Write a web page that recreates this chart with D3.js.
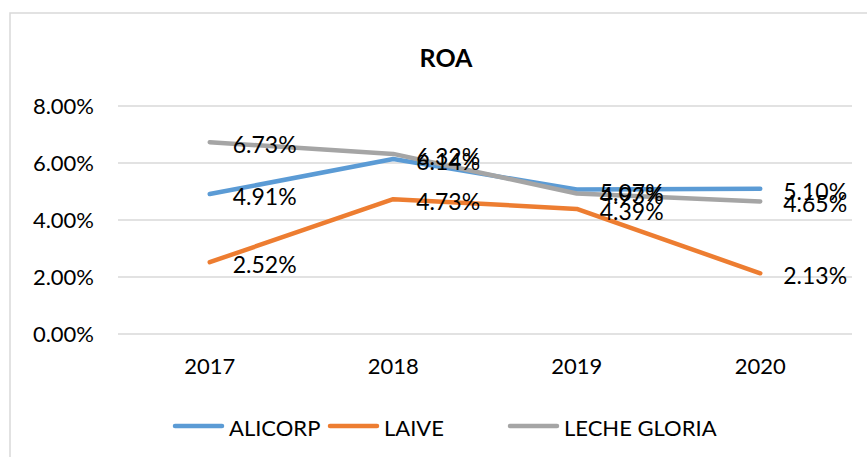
<!DOCTYPE html>
<html>
<head>
<meta charset="utf-8">
<script src="https://cdn.jsdelivr.net/npm/d3@7"></script>
<style>
body{margin:0;background:#fff;}
svg{display:block;font-family:Lato,"Open Sans",sans-serif;}
</style>
</head>
<body>
<script>
//数据
let years=["2017","2018","2019","2020"];
let alicorp=[4.91,6.14,5.07,5.10];
let laive=[2.52,4.73,4.39,2.13];
let gloria=[6.73,6.32,4.93,4.65];
let yTicks=[0,2,4,6,8];
let series=[
    {name:"ALICORP",values:alicorp,color:"#5B9BD5"},
    {name:"LAIVE",values:laive,color:"#ED7D31"},
    {name:"LECHE GLORIA",values:gloria,color:"#A5A5A5"}
];

//画布
let width=867,height=457;
let svg=d3.select("body").append("svg").attr("width",width).attr("height",height);

//边框
svg.append("rect")
    .attr("x",10).attr("y",13)
    .attr("width",900).attr("height",500)
    .style("fill","none").style("stroke","#D9D9D9").style("stroke-width",1.5);

//比例尺
let x=d3.scaleBand().domain(years).range([118,852]);
let y=d3.scaleLinear().domain([0,8]).range([334,106]);
let cx=function(d){return x(d)+x.bandwidth()/2;};

//标题
svg.append("text")
    .attr("x",446).attr("y",57)
    .attr("text-anchor","middle").attr("dominant-baseline","central")
    .style("font-size","25px").style("font-weight","bold")
    .text("ROA");

//网格线
svg.append("g").selectAll("line").data(yTicks).enter().append("line")
    .attr("x1",118).attr("x2",852)
    .attr("y1",d=>y(d)).attr("y2",d=>y(d))
    .style("stroke","#D9D9D9").style("stroke-width",1.5);

//y轴
let yAxis=svg.append("g").attr("transform","translate(94,0)")
    .call(d3.axisLeft(y).tickValues(yTicks).tickSize(0).tickPadding(0)
        .tickFormat(d=>d.toFixed(2)+"%"));
yAxis.select(".domain").remove();
yAxis.selectAll("text").style("font-size","22px").style("fill","#000")
    .style("font-family","Lato,'Open Sans',sans-serif");

//x轴
let xAxis=svg.append("g").attr("transform","translate(0,358)")
    .call(d3.axisBottom(x).tickSize(0).tickPadding(0));
xAxis.select(".domain").remove();
xAxis.selectAll("text").style("font-size","22px").style("fill","#000")
    .style("font-family","Lato,'Open Sans',sans-serif");

//折线
let line=d3.line().x((d,i)=>cx(years[i])).y(d=>y(d));
series.forEach(function(s){
    svg.append("path").datum(s.values)
        .attr("d",line)
        .style("fill","none").style("stroke",s.color)
        .style("stroke-width",4.5).style("stroke-linecap","round")
        .style("stroke-linejoin","round");
});

//数据标签
series.forEach(function(s){
    svg.append("g").selectAll("text").data(s.values).enter().append("text")
        .attr("x",(d,i)=>cx(years[i])+23)
        .attr("y",d=>y(d)+2)
        .attr("dominant-baseline","central")
        .style("font-size","23px")
        .text(d=>d.toFixed(2)+"%");
});

//图例
let legendX=[175,330,510];
let legend=svg.append("g").selectAll("g").data(series).enter().append("g")
    .attr("transform",(d,i)=>"translate("+legendX[i]+",426)");
legend.append("line")
    .attr("x1",0).attr("x2",47).attr("y1",0).attr("y2",0)
    .style("stroke",d=>d.color).style("stroke-width",4.5).style("stroke-linecap","round");
legend.append("text")
    .attr("x",54).attr("y",1)
    .attr("dominant-baseline","central")
    .style("font-size","22px")
    .text(d=>d.name);
</script>
</body>
</html>
